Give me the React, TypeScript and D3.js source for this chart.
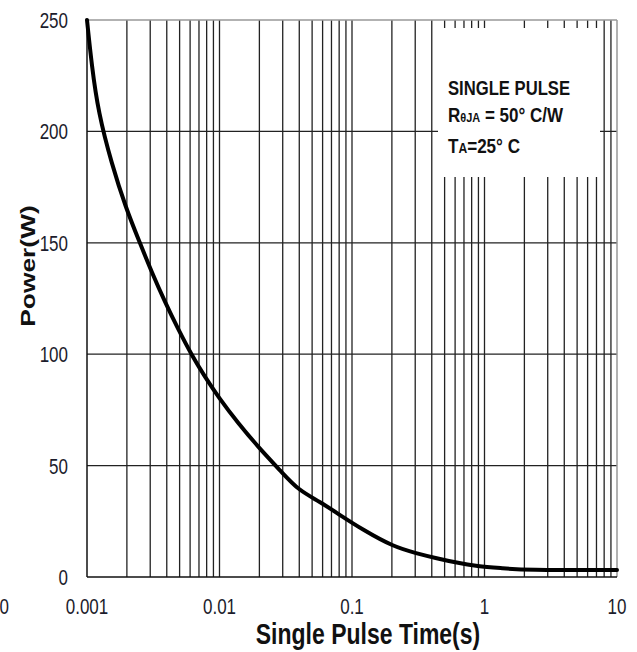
import React from 'react';
import * as d3 from 'd3';

const pulseTime = [0.001, 0.001085, 0.001217, 0.001536, 0.001959, 0.002512, 0.003077, 0.003878, 0.004887, 0.006166, 0.00777, 0.0098, 0.01387, 0.01963, 0.02947, 0.03934, 0.0573, 0.0811, 0.1216, 0.205, 0.3076, 0.4355, 0.6166, 0.873, 1.387, 1.963, 10];
const powerW = [250, 229.8, 208.5, 185.4, 165.8, 149.8, 136.9, 123.4, 111.1, 99.6, 89.8, 80.8, 68.9, 58.3, 47.1, 39.0, 33.8, 27.8, 21.1, 13.6, 10.6, 8.4, 6.4, 4.9, 3.9, 3.1, 3.1];
const yTicks = [0, 50, 100, 150, 200, 250];
const xTickValues = [0.001, 0.01, 0.1, 1, 10];
const xTickLabels = ['0.001', '0.01', '0.1', '1', '10'];
const decades = [0.001, 0.01, 0.1, 1];

const FONT = "'Liberation Sans', Arial, sans-serif";
const SY = 1.32;

export default function App() {
  const W = 637, H = 652;
  const L = 87, R = 617, T = 20, B = 577;
  const x = d3.scaleLog().domain([0.001, 10]).range([L, R]);
  const y = d3.scaleLinear().domain([0, 250]).range([B, T]);

  const minor: number[] = [];
  decades.forEach(d => { for (let k = 1; k <= 9; k++) minor.push(k * d); });

  const pts = pulseTime.map((t, i) => [x(t), y(powerW[i])] as [number, number]);
  const line = d3.line().curve(d3.curveBasis)(pts) || '';

  const txt = (tx: number, ty: number) => `translate(${tx},${ty}) scale(1,${SY})`;

  return (
    <svg width={W} height={H} style={{ position: 'absolute', left: 0, top: 0, background: '#fff' }} fontFamily={FONT}>
      <rect x={0} y={0} width={W} height={H} fill="#fff" />
      {minor.slice(1).map((v, i) => (
        <line key={'v' + i} x1={x(v)} x2={x(v)} y1={T} y2={B} stroke="#222" strokeWidth={1.3} />
      ))}
      {yTicks.slice(1, -1).map(v => (
        <line key={'h' + v} x1={L} x2={R} y1={y(v)} y2={y(v)} stroke="#222" strokeWidth={1.3} />
      ))}
      <line x1={L} x2={R} y1={T} y2={T} stroke="#999" strokeWidth={1.5} />
      <line x1={R} x2={R} y1={T} y2={B} stroke="#999" strokeWidth={1.5} />
      <line x1={L} x2={L} y1={T} y2={B} stroke="#111" strokeWidth={1.5} />
      <line x1={L} x2={R} y1={B} y2={B} stroke="#111" strokeWidth={1.5} />
      <rect x={438} y={28} width={162} height={149} fill="#fff" />
      <path d={line} fill="none" stroke="#000" strokeWidth={4} strokeLinejoin="round" strokeLinecap="round" />

      {yTicks.map(v => (
        <text key={'yl' + v} transform={txt(68, y(v) + 8)} textAnchor="end" fontSize={17} fill="#1c1c2c">{v}</text>
      ))}
      {xTickValues.map((v, i) => (
        <text key={'xl' + i} transform={txt(x(v), 614)} textAnchor="middle" fontSize={17} fill="#1c1c2c">{xTickLabels[i]}</text>
      ))}
      <text transform={txt(9, 614)} textAnchor="end" fontSize={17} fill="#1c1c2c">0</text>

      <text transform={txt(368, 644)} textAnchor="middle" fontSize={23} fontWeight="bold" fill="#111">Single Pulse Time(s)</text>
      <text transform={`translate(35,266) scale(1,${SY}) rotate(-90)`} textAnchor="middle" fontSize={20} fontWeight="bold" fill="#111">Power(W)</text>

      <g fill="#111" fontWeight="bold">
        <text transform={txt(448, 95)} fontSize={15.5} textLength={122} lengthAdjust="spacingAndGlyphs">SINGLE PULSE</text>
        <text transform={txt(448, 122)} fontSize={15.5} textLength={115} lengthAdjust="spacingAndGlyphs">
          <tspan>R</tspan><tspan fontSize={10}>θJA</tspan><tspan> = 50° C/W</tspan>
        </text>
        <text transform={txt(448, 153)} fontSize={15.5} textLength={72} lengthAdjust="spacingAndGlyphs">
          <tspan>T</tspan><tspan fontSize={11}>A</tspan><tspan>=25° C</tspan>
        </text>
      </g>
    </svg>
  );
}
